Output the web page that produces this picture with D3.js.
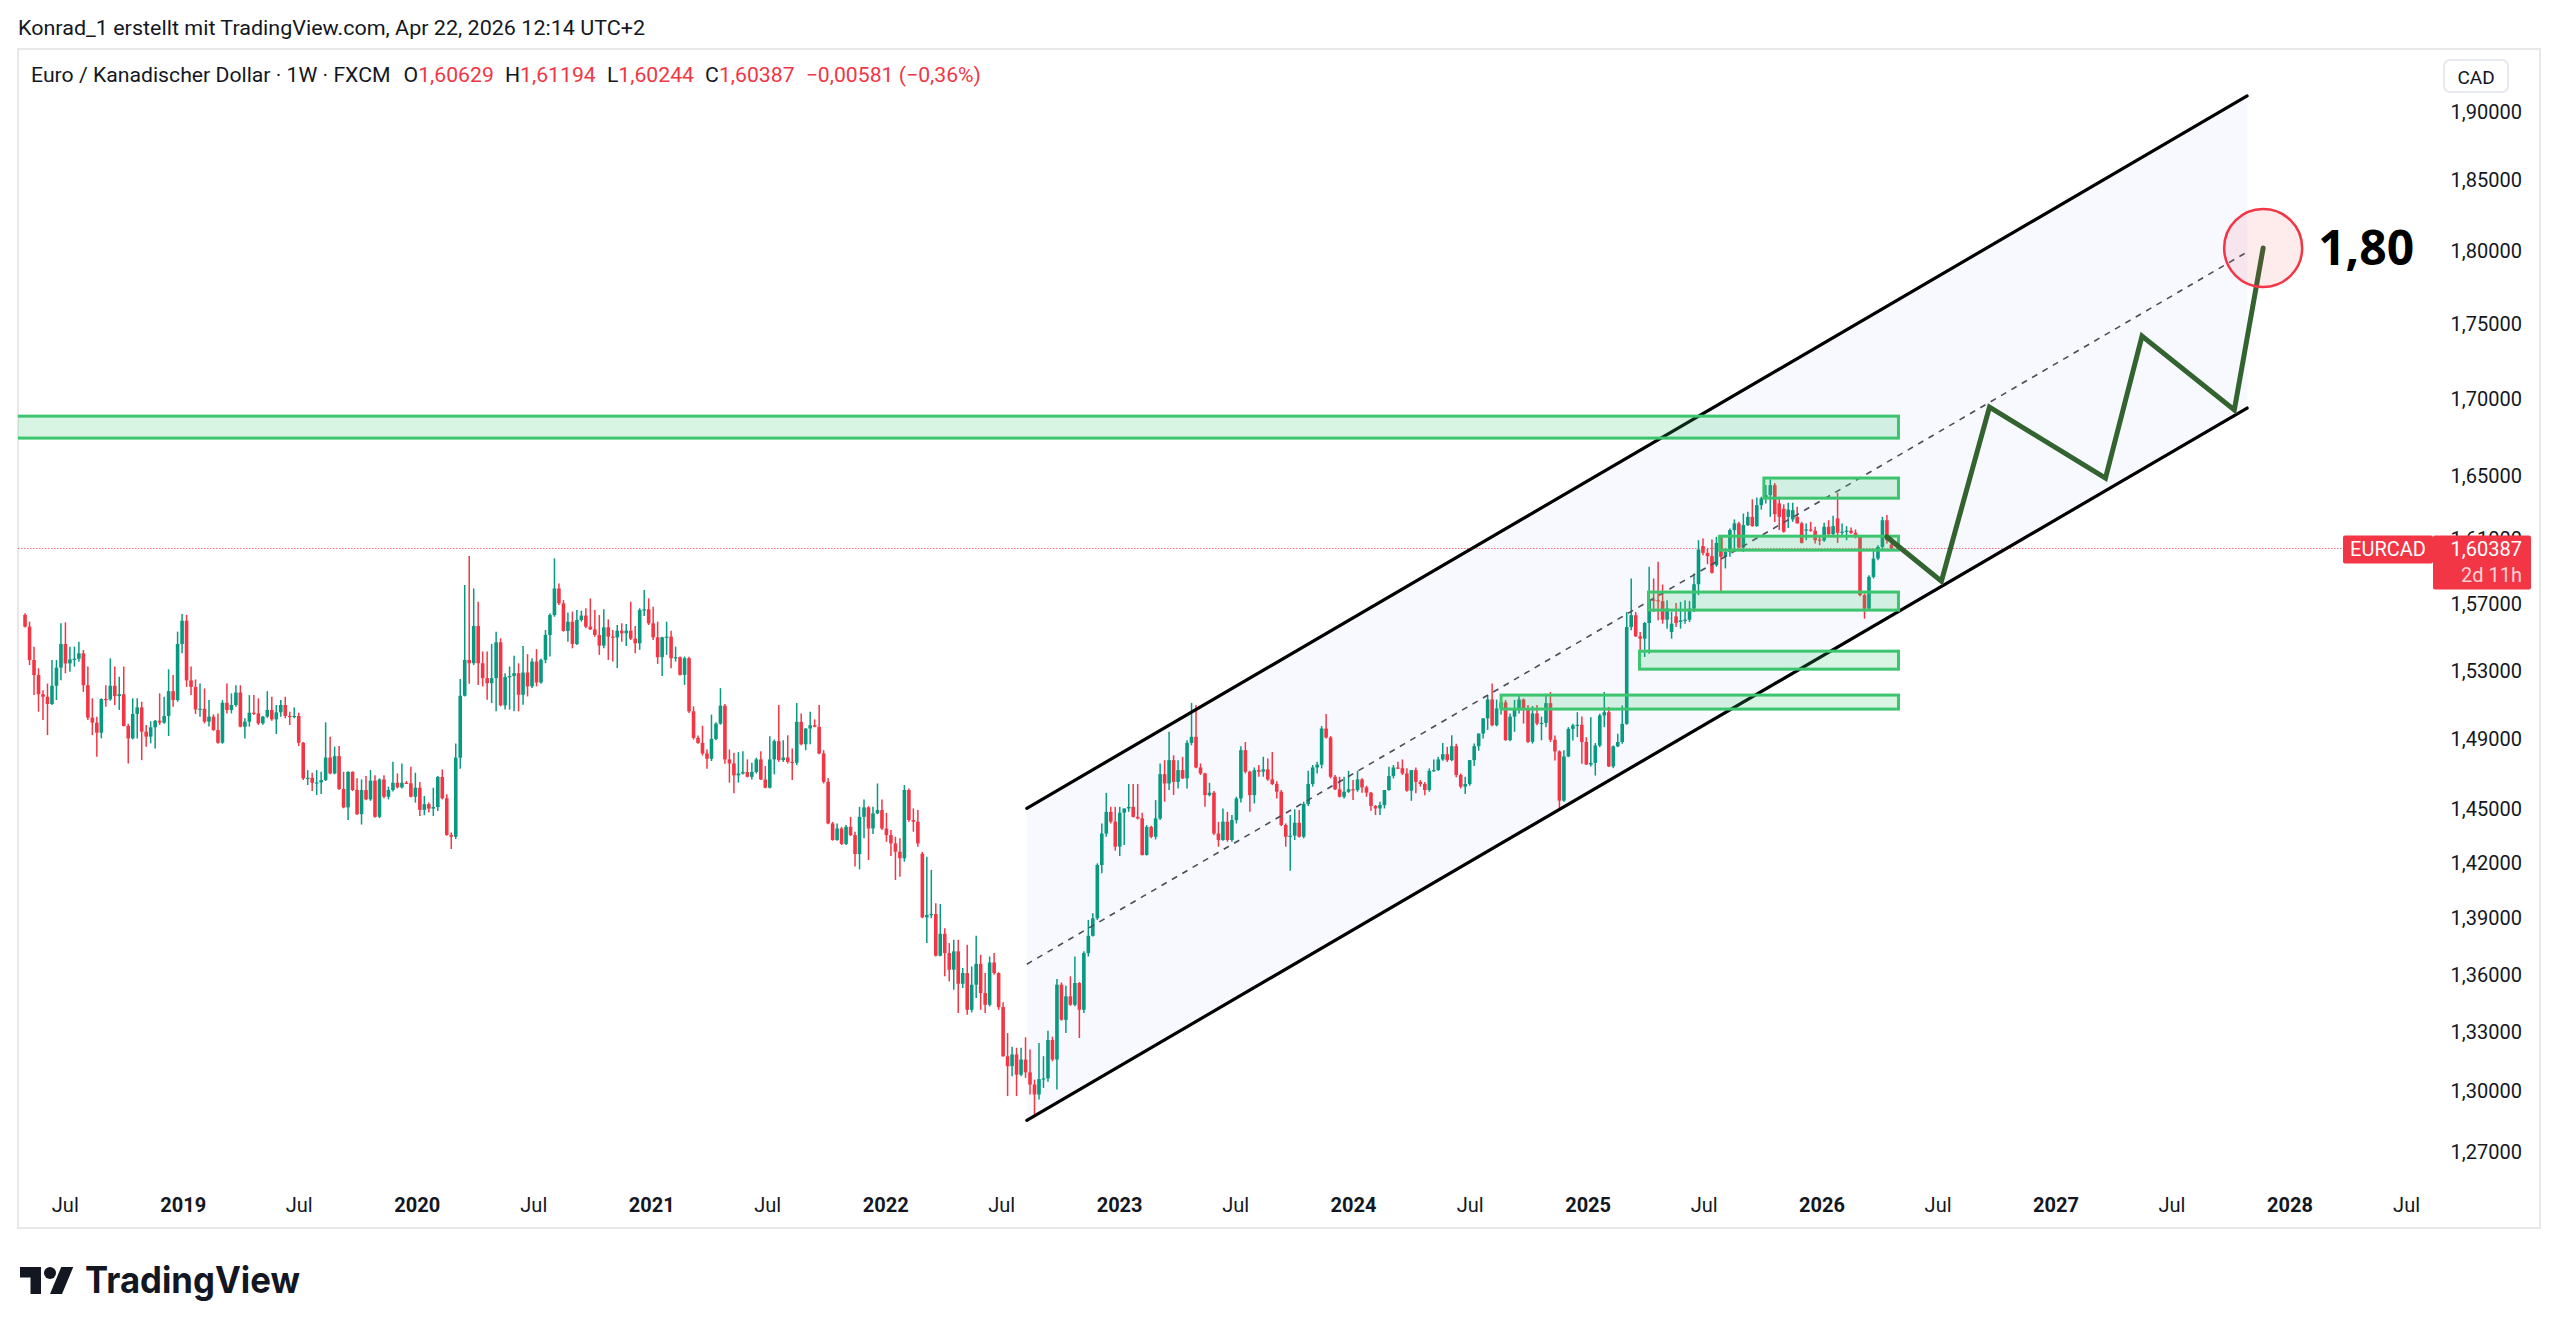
<!DOCTYPE html>
<html>
<head>
<meta charset="utf-8">
<title>EURCAD 1W</title>
<script src="https://cdn.jsdelivr.net/npm/d3@7/dist/d3.min.js"></script>
<style>
	body { margin: 0; background: #ffffff; }
	svg text { font-family: Roboto, "Liberation Sans", sans-serif; fill: #131722; }
</style>
</head>
<body>
<svg id="chart" width="2560" height="1335"></svg>
<script>

//header and legend
var authorLine = "Konrad_1 erstellt mit TradingView.com, Apr 22, 2026 12:14 UTC+2";
var symbolTitle = "Euro / Kanadischer Dollar · 1W · FXCM";
var ohlcLabels = ["O", "H", "L", "C"];
var ohlcValues = [1.60629, 1.61194, 1.60244, 1.60387];
var lastChange = -0.00581, lastChangePct = -0.36;
var symbolName = "EURCAD", barCountdown = "2d 11h", currencyName = "CAD";

//scale ticks
var priceTicks = [1.27, 1.30, 1.33, 1.36, 1.39, 1.42, 1.45, 1.49, 1.53, 1.57, 1.61, 1.65, 1.70, 1.75, 1.80, 1.85, 1.90];
var yearTicks = [2019, 2020, 2021, 2022, 2023, 2024, 2025, 2026, 2027, 2028];
var julTicks = [2018, 2019, 2020, 2021, 2022, 2023, 2024, 2025, 2026, 2027, 2028];

//weekly candles [open, high, low, close], last one is the week of 2026-04-20
var lastBarDate = "2026-04-20";

//may 2018 - dec 2019
var candlesA = [
[1.5631,1.5641,1.5555,1.5560],[1.5560,1.5590,1.5330,1.5360],[1.5360,1.5440,1.5153,1.5271],[1.5271,1.5311,1.5056,1.5158],
[1.5158,1.5182,1.5007,1.5143],[1.5143,1.5221,1.4920,1.5101],[1.5101,1.5360,1.5095,1.5208],[1.5208,1.5360,1.5124,1.5315],
[1.5315,1.5580,1.5241,1.5456],[1.5456,1.5586,1.5281,1.5340],[1.5340,1.5440,1.5291,1.5364],[1.5364,1.5440,1.5321,1.5368],
[1.5368,1.5470,1.5350,1.5400],[1.5400,1.5420,1.5172,1.5211],[1.5211,1.5321,1.5007,1.5021],[1.5021,1.5134,1.4920,1.4992],
[1.4992,1.5027,1.4795,1.4934],[1.4934,1.5134,1.4901,1.5130],[1.5130,1.5211,1.5085,1.5128],[1.5128,1.5370,1.5120,1.5208],
[1.5208,1.5321,1.5095,1.5147],[1.5147,1.5261,1.5066,1.5158],[1.5158,1.5321,1.4969,1.4973],[1.4973,1.4985,1.4757,1.4901],
[1.4901,1.5134,1.4895,1.5043],[1.5043,1.5134,1.4901,1.5081],[1.5081,1.5114,1.4776,1.4940],[1.4940,1.4979,1.4853,1.4911],
[1.4911,1.5000,1.4872,1.4965],[1.4965,1.5007,1.4843,1.5003],[1.5003,1.5163,1.4979,1.4992],[1.4992,1.5143,1.4985,1.5031],
[1.5031,1.5305,1.4915,1.5176],[1.5176,1.5271,1.5085,1.5124],[1.5124,1.5530,1.5114,1.5456],[1.5456,1.5637,1.5400,1.5596],
[1.5596,1.5631,1.5201,1.5240],[1.5240,1.5321,1.5153,1.5201],[1.5201,1.5245,1.5043,1.5069],[1.5069,1.5221,1.5027,1.5073],
[1.5073,1.5192,1.4988,1.4998],[1.4998,1.5124,1.4969,1.5027],[1.5027,1.5040,1.4945,1.4949],[1.4949,1.5046,1.4870,1.4876],
[1.4876,1.5124,1.4870,1.5108],[1.5108,1.5221,1.5046,1.5066],[1.5066,1.5163,1.5046,1.5095],[1.5095,1.5211,1.5085,1.5168],
[1.5168,1.5211,1.4965,1.4969],[1.4969,1.5017,1.4901,1.4998],[1.4998,1.5153,1.4969,1.5050],[1.5050,1.5153,1.5037,1.5046],
[1.5046,1.5134,1.4979,1.4988],[1.4988,1.5031,1.4980,1.5027],[1.5027,1.5176,1.5020,1.5066],[1.5066,1.5143,1.5003,1.5011],
[1.5011,1.5095,1.4926,1.5052],[1.5052,1.5124,1.5027,1.5095],[1.5095,1.5143,1.5017,1.5031],[1.5031,1.5056,1.4979,1.5027],
[1.5027,1.5081,1.5017,1.5031],[1.5031,1.5050,1.4857,1.4876],[1.4876,1.4880,1.4662,1.4672],[1.4672,1.4719,1.4634,1.4675],
[1.4675,1.4704,1.4600,1.4647],[1.4647,1.4719,1.4578,1.4649],[1.4649,1.4709,1.4583,1.4662],[1.4662,1.4994,1.4657,1.4791],
[1.4791,1.4911,1.4695,1.4700],[1.4700,1.4853,1.4695,1.4799],[1.4799,1.4857,1.4606,1.4612],[1.4612,1.4709,1.4503,1.4508],
[1.4508,1.4713,1.4437,1.4709],[1.4709,1.4712,1.4600,1.4606],[1.4606,1.4672,1.4465,1.4470],[1.4470,1.4666,1.4412,1.4606],
[1.4606,1.4685,1.4548,1.4553],[1.4553,1.4719,1.4545,1.4659],[1.4659,1.4690,1.4450,1.4455],[1.4455,1.4672,1.4448,1.4666],
[1.4666,1.4690,1.4559,1.4568],[1.4568,1.4625,1.4553,1.4606],[1.4606,1.4767,1.4597,1.4647],[1.4647,1.4700,1.4615,1.4621],
[1.4621,1.4757,1.4615,1.4647],[1.4647,1.4657,1.4640,1.4644],[1.4644,1.4738,1.4563,1.4568]
];

//dec 2019 - jun 2021
var candlesB = [
[1.4568,1.4704,1.4535,1.4619],[1.4619,1.4651,1.4460,1.4494],[1.4494,1.4572,1.4464,1.4526],[1.4526,1.4535,1.4479,1.4501],
[1.4501,1.4619,1.4460,1.4510],[1.4510,1.4685,1.4488,1.4680],[1.4680,1.4723,1.4553,1.4559],[1.4559,1.4582,1.4349,1.4354],
[1.4354,1.4368,1.4276,1.4344],[1.4344,1.4872,1.4331,1.4790],[1.4790,1.5247,1.4727,1.5149],[1.5149,1.5813,1.5145,1.5361],
[1.5361,1.5991,1.5219,1.5341],[1.5341,1.5792,1.5330,1.5564],[1.5564,1.5711,1.5213,1.5341],[1.5341,1.5411,1.5204,1.5253],
[1.5253,1.5411,1.5126,1.5223],[1.5223,1.5456,1.5106,1.5253],[1.5253,1.5530,1.5058,1.5466],[1.5466,1.5490,1.5087,1.5093],
[1.5093,1.5282,1.5068,1.5259],[1.5259,1.5322,1.5068,1.5265],[1.5265,1.5385,1.5058,1.5282],[1.5282,1.5341,1.5058,1.5155],
[1.5155,1.5444,1.5097,1.5286],[1.5286,1.5395,1.5145,1.5204],[1.5204,1.5371,1.5194,1.5351],[1.5351,1.5425,1.5204,1.5227],
[1.5227,1.5369,1.5220,1.5361],[1.5361,1.5540,1.5341,1.5510],[1.5510,1.5640,1.5381,1.5630],[1.5630,1.5977,1.5620,1.5792],
[1.5792,1.5823,1.5691,1.5701],[1.5701,1.5721,1.5530,1.5534],[1.5534,1.5645,1.5470,1.5590],[1.5590,1.5651,1.5430,1.5456],
[1.5456,1.5661,1.5450,1.5600],[1.5600,1.5657,1.5590,1.5627],[1.5627,1.5671,1.5550,1.5560],[1.5560,1.5731,1.5540,1.5544],
[1.5544,1.5661,1.5500,1.5510],[1.5510,1.5630,1.5391,1.5446],[1.5446,1.5665,1.5430,1.5556],[1.5556,1.5604,1.5361,1.5500],
[1.5500,1.5540,1.5351,1.5495],[1.5495,1.5570,1.5312,1.5536],[1.5536,1.5580,1.5470,1.5520],[1.5520,1.5576,1.5444,1.5536],
[1.5536,1.5711,1.5480,1.5488],[1.5488,1.5564,1.5401,1.5460],[1.5460,1.5671,1.5421,1.5661],[1.5661,1.5782,1.5625,1.5665],
[1.5665,1.5731,1.5570,1.5580],[1.5580,1.5681,1.5480,1.5496],[1.5496,1.5590,1.5337,1.5377],[1.5377,1.5500,1.5266,1.5496],
[1.5496,1.5590,1.5391,1.5500],[1.5500,1.5536,1.5312,1.5371],[1.5371,1.5440,1.5351,1.5377],[1.5377,1.5381,1.5268,1.5272],
[1.5272,1.5381,1.5213,1.5371],[1.5371,1.5380,1.5048,1.5058],[1.5058,1.5087,1.4894,1.4904],[1.4904,1.4917,1.4870,1.4875],
[1.4875,1.4974,1.4803,1.4814],[1.4814,1.4837,1.4727,1.4784],[1.4784,1.5039,1.4771,1.4898],[1.4898,1.4994,1.4890,1.4986],
[1.4986,1.5194,1.4980,1.5091],[1.5091,1.5101,1.4755,1.4780],[1.4780,1.4837,1.4648,1.4757],[1.4757,1.4818,1.4588,1.4689],
[1.4689,1.4822,1.4648,1.4700],[1.4700,1.4827,1.4694,1.4708],[1.4708,1.4780,1.4678,1.4681],[1.4681,1.4761,1.4666,1.4708],
[1.4708,1.4790,1.4700,1.4780],[1.4780,1.4827,1.4662,1.4666],[1.4666,1.4742,1.4615,1.4619],[1.4619,1.4913,1.4614,1.4780],
[1.4780,1.4894,1.4695,1.4885]
];

//jul 2021 - feb 2023
var candlesC = [
[1.4885,1.5095,1.4766,1.4776],[1.4776,1.4890,1.4766,1.4791],[1.4791,1.4919,1.4757,1.4766],[1.4766,1.4842,1.4662,1.4761],
[1.4761,1.5107,1.4747,1.4997],[1.4997,1.5046,1.4861,1.4867],[1.4867,1.4960,1.4833,1.4958],[1.4958,1.5056,1.4867,1.4977],
[1.4977,1.5011,1.4965,1.4968],[1.4968,1.5095,1.4810,1.4814],[1.4814,1.4833,1.4643,1.4652],[1.4652,1.4672,1.4414,1.4418],
[1.4418,1.4427,1.4322,1.4326],[1.4326,1.4418,1.4322,1.4390],[1.4390,1.4399,1.4298,1.4304],[1.4304,1.4409,1.4298,1.4399],
[1.4399,1.4455,1.4348,1.4353],[1.4353,1.4372,1.4179,1.4248],[1.4248,1.4511,1.4164,1.4455],[1.4455,1.4553,1.4335,1.4508],
[1.4508,1.4515,1.4215,1.4390],[1.4390,1.4511,1.4359,1.4474],[1.4474,1.4643,1.4470,1.4493],[1.4493,1.4553,1.4381,1.4390],
[1.4390,1.4478,1.4316,1.4353],[1.4353,1.4381,1.4237,1.4307],[1.4307,1.4344,1.4106,1.4261],[1.4261,1.4335,1.4124,1.4225],
[1.4225,1.4634,1.4206,1.4606],[1.4606,1.4615,1.4428,1.4437],[1.4437,1.4502,1.4372,1.4428],[1.4428,1.4493,1.4289,1.4307],
[1.4250,1.4260,1.3898,1.3903],[1.3903,1.4233,1.3765,1.3916],[1.3916,1.4161,1.3898,1.3921],[1.3921,1.3979,1.3694,1.3698],
[1.3698,1.3975,1.3694,1.3815],[1.3815,1.3845,1.3589,1.3712],[1.3712,1.3765,1.3562,1.3624],[1.3624,1.3783,1.3519,1.3721],
[1.3721,1.3783,1.3397,1.3550],[1.3550,1.3633,1.3528,1.3606],[1.3606,1.3756,1.3388,1.3414],[1.3414,1.3641,1.3400,1.3545],
[1.3545,1.3804,1.3475,1.3655],[1.3655,1.3703,1.3414,1.3501],[1.3501,1.3606,1.3397,1.3440],[1.3440,1.3694,1.3432,1.3662],
[1.3662,1.3712,1.3597,1.3606],[1.3606,1.3610,1.3414,1.3428],[1.3428,1.3453,1.3172,1.3175],[1.3175,1.3294,1.2973,1.3124],
[1.3124,1.3223,1.3073,1.3184],[1.3184,1.3218,1.2973,1.3081],[1.3081,1.3218,1.3073,1.3158],[1.3158,1.3272,1.3065,1.3093],
[1.3093,1.3209,1.2981,1.3031],[1.3031,1.3056,1.2881,1.2981],[1.2981,1.3243,1.2956,1.3059],[1.3059,1.3175,1.3014,1.3062],
[1.3062,1.3305,1.3045,1.3258],[1.3258,1.3275,1.3149,1.3158],[1.3158,1.3575,1.3006,1.3545],[1.3545,1.3557,1.3358,1.3362],
[1.3362,1.3540,1.3294,1.3484],[1.3484,1.3589,1.3435,1.3440],[1.3440,1.3694,1.3432,1.3554],[1.3554,1.3559,1.3268,1.3414],
[1.3414,1.3721,1.3397,1.3712],[1.3712,1.3889,1.3694,1.3804],[1.3804,1.3925,1.3800,1.3898],[1.3898,1.4197,1.3889,1.4188],
[1.4188,1.4418,1.4142,1.4362],[1.4362,1.4590,1.4344,1.4483],[1.4483,1.4511,1.4418,1.4428],[1.4428,1.4511,1.4267,1.4289],
[1.4289,1.4511,1.4237,1.4478],[1.4478,1.4502,1.4298,1.4502],[1.4502,1.4640,1.4483,1.4511],[1.4511,1.4640,1.4451,1.4455],
[1.4455,1.4640,1.4440,1.4446],[1.4446,1.4478,1.4240,1.4243],[1.4243,1.4409,1.4240,1.4399],[1.4399,1.4405,1.4335,1.4344],
[1.4344,1.4549,1.4329,1.4446],[1.4446,1.4757,1.4437,1.4696],[1.4696,1.4776,1.4540,1.4643]
];

//feb 2023 - apr 2026
var candlesD = [
[1.4643,1.4939,1.4606,1.4776],[1.4776,1.4804,1.4578,1.4652],[1.4652,1.4776,1.4615,1.4719],[1.4719,1.4795,1.4668,1.4672],
[1.4672,1.4890,1.4615,1.4875],[1.4875,1.5107,1.4861,1.4910],[1.4910,1.5095,1.4729,1.4734],[1.4734,1.4757,1.4691,1.4700],
[1.4700,1.4704,1.4511,1.4577],[1.4577,1.4647,1.4570,1.4591],[1.4591,1.4600,1.4353,1.4362],[1.4362,1.4427,1.4289,1.4326],
[1.4326,1.4502,1.4322,1.4428],[1.4428,1.4483,1.4316,1.4326],[1.4326,1.4465,1.4316,1.4437],[1.4437,1.4568,1.4418,1.4558],
[1.4558,1.4856,1.4535,1.4833],[1.4833,1.4880,1.4700,1.4710],[1.4710,1.4715,1.4483,1.4577],[1.4577,1.4734,1.4530,1.4719],
[1.4719,1.4748,1.4681,1.4710],[1.4710,1.4795,1.4681,1.4723],[1.4723,1.4785,1.4658,1.4666],[1.4666,1.4823,1.4634,1.4640],
[1.4640,1.4655,1.4558,1.4596],[1.4596,1.4606,1.4403,1.4409],[1.4409,1.4418,1.4289,1.4344],[1.4344,1.4465,1.4156,1.4350],
[1.4350,1.4497,1.4326,1.4422],[1.4422,1.4493,1.4340,1.4344],[1.4344,1.4540,1.4335,1.4527],[1.4527,1.4715,1.4516,1.4640],
[1.4640,1.4748,1.4625,1.4734],[1.4734,1.4766,1.4700,1.4750],[1.4750,1.4972,1.4729,1.4958],[1.4958,1.5042,1.4900,1.4906],
[1.4906,1.4914,1.4672,1.4681],[1.4681,1.4691,1.4606,1.4610],[1.4610,1.4681,1.4564,1.4568],[1.4568,1.4681,1.4558,1.4596],
[1.4596,1.4715,1.4590,1.4610],[1.4610,1.4662,1.4549,1.4606],[1.4606,1.4715,1.4596,1.4666],[1.4666,1.4672,1.4590,1.4621],
[1.4621,1.4630,1.4568,1.4591],[1.4591,1.4595,1.4489,1.4516],[1.4516,1.4521,1.4465,1.4502],[1.4502,1.4540,1.4465,1.4521],
[1.4521,1.4606,1.4502,1.4606],[1.4606,1.4738,1.4602,1.4685],[1.4685,1.4748,1.4672,1.4734],[1.4734,1.4766,1.4725,1.4730],
[1.4730,1.4780,1.4691,1.4700],[1.4700,1.4729,1.4596,1.4602],[1.4602,1.4719,1.4545,1.4719],[1.4719,1.4734,1.4587,1.4652],
[1.4652,1.4662,1.4625,1.4640],[1.4640,1.4652,1.4577,1.4606],[1.4606,1.4729,1.4596,1.4715],[1.4715,1.4780,1.4710,1.4719],
[1.4719,1.4795,1.4715,1.4780],[1.4780,1.4875,1.4772,1.4810],[1.4810,1.4852,1.4766,1.4776],[1.4776,1.4919,1.4770,1.4856],
[1.4856,1.4870,1.4678,1.4691],[1.4691,1.4700,1.4615,1.4625],[1.4625,1.4681,1.4583,1.4640],[1.4640,1.4776,1.4630,1.4776],
[1.4776,1.4871,1.4742,1.4856],[1.4856,1.4929,1.4830,1.4929],[1.4929,1.5017,1.4900,1.5017],[1.5017,1.5152,1.4950,1.5127],
[1.5127,1.5221,1.4971,1.4977],[1.4977,1.5127,1.4971,1.5075],[1.5075,1.5150,1.5040,1.5110],[1.5110,1.5124,1.4887,1.4891],
[1.4891,1.5046,1.4885,1.5027],[1.5027,1.5124,1.4939,1.5065],[1.5065,1.5152,1.5046,1.5127],[1.5127,1.5133,1.4987,1.5069],
[1.5069,1.5095,1.4875,1.4881],[1.4881,1.5089,1.4871,1.5046],[1.5046,1.5095,1.4977,1.4987],[1.4987,1.5027,1.4890,1.4991],
[1.4991,1.5161,1.4966,1.5106],[1.5106,1.5171,1.4880,1.4893],[1.4893,1.4918,1.4774,1.4826],[1.4826,1.4832,1.4490,1.4546],
[1.4546,1.4832,1.4540,1.4797],[1.4797,1.4966,1.4793,1.4956],[1.4956,1.4985,1.4889,1.4976],[1.4976,1.5053,1.4908,1.4980],
[1.4980,1.5028,1.4755,1.4880],[1.4880,1.4908,1.4748,1.4751],[1.4751,1.5024,1.4740,1.4760],[1.4760,1.4874,1.4688,1.4860],
[1.4860,1.5044,1.4851,1.5034],[1.5034,1.5171,1.4966,1.5053],[1.5053,1.5083,1.4736,1.4740],[1.4740,1.4860,1.4730,1.4855],
[1.4855,1.4928,1.4851,1.4880],[1.4880,1.5092,1.4870,1.4985],[1.4985,1.5649,1.4980,1.5558],[1.5558,1.5853,1.5538,1.5629],
[1.5629,1.5649,1.5498,1.5502],[1.5502,1.5528,1.5318,1.5488],[1.5488,1.5588,1.5378,1.5582],[1.5582,1.5925,1.5398,1.5724],
[1.5724,1.5853,1.5649,1.5720],[1.5720,1.5956,1.5598,1.5714],[1.5714,1.5816,1.5578,1.5602],[1.5602,1.5720,1.5548,1.5669],
[1.5528,1.5649,1.5488,1.5578],[1.5622,1.5703,1.5558,1.5582],[1.5588,1.5710,1.5548,1.5598],[1.5598,1.5720,1.5578,1.5602],
[1.5602,1.5716,1.5588,1.5669],[1.5669,1.5884,1.5649,1.5818],[1.5818,1.6090,1.5751,1.6032],[1.6053,1.6100,1.5997,1.6011],
[1.6011,1.6038,1.5941,1.5991],[1.5991,1.6094,1.5884,1.5888],[1.5935,1.6111,1.5925,1.6073],[1.6107,1.6111,1.5765,1.5987],
[1.5987,1.6038,1.5915,1.6017],[1.6017,1.6163,1.5987,1.6153],[1.6153,1.6220,1.6017,1.6195],[1.6195,1.6205,1.6038,1.6044],
[1.6044,1.6257,1.6017,1.6184],[1.6184,1.6268,1.6178,1.6236],[1.6236,1.6347,1.6174,1.6178],[1.6178,1.6359,1.6174,1.6310],
[1.6310,1.6363,1.6282,1.6352],[1.6352,1.6437,1.6320,1.6373],[1.6373,1.6473,1.6236,1.6437],[1.6437,1.6450,1.6203,1.6253],
[1.6321,1.6363,1.6153,1.6236],[1.6287,1.6315,1.6137,1.6143],[1.6236,1.6325,1.6166,1.6282],[1.6220,1.6325,1.6205,1.6278],
[1.6236,1.6299,1.6195,1.6195],[1.6195,1.6205,1.6069,1.6073],[1.6153,1.6195,1.6090,1.6157],[1.6157,1.6205,1.6143,1.6149],
[1.6149,1.6174,1.6069,1.6090],[1.6094,1.6122,1.6059,1.6088],[1.6088,1.6199,1.6080,1.6174],[1.6174,1.6215,1.6122,1.6128],
[1.6128,1.6243,1.6122,1.6178],[1.6226,1.6388,1.6073,1.6136],[1.6136,1.6195,1.6115,1.6143],[1.6143,1.6178,1.6090,1.6149],
[1.6149,1.6170,1.6128,1.6136],[1.6136,1.6157,1.6101,1.6111],[1.6111,1.6120,1.5745,1.5751],[1.5751,1.5761,1.5608,1.5669],
[1.5669,1.5873,1.5659,1.5863],[1.5863,1.6032,1.5853,1.5976],[1.5976,1.6059,1.5966,1.6048],[1.6048,1.6236,1.6032,1.6215],
[1.6215,1.6247,1.6069,1.6090],[1.60629,1.61194,1.60244,1.60387]
];

//drawings: rising channel (upper, middle, lower line)
var channelDates = ["2022-08-10", "2027-10-27"];
var channelUpper = [1.4503, 1.9111];
var channelMiddle = [1.3653, 1.7990];
var channelLower = [1.2852, 1.6935];

//drawings: green zones
var zoneStarts = ["2018-01-01", "2025-10-03", "2025-07-26", "2025-04-06", "2025-03-23", "2024-08-19"];
var zoneEnd = "2026-05-01";
var zoneTops = [1.6882, 1.6482, 1.6115, 1.5770, 1.5413, 1.5153];
var zoneBottoms = [1.6739, 1.6354, 1.6028, 1.5660, 1.5306, 1.5071];

//drawings: projected path and target
var pathDates = ["2026-04-13", "2026-07-07", "2026-09-20", "2027-03-20", "2027-05-16", "2027-10-07", "2027-11-21"];
var pathPrices = [1.6110, 1.5837, 1.6941, 1.6482, 1.7414, 1.6922, 1.8018];
var targetLabel = "1,80";


(function(d3) {

	var pane = { left: 18, right: 2433, top: 49, bottom: 1180 };
	var upColor = "#089981", downColor = "#F23645";
	var parseDate = d3.utcParse("%Y-%m-%d");
	var locale = d3.formatLocale({ decimal: ",", thousands: ".", grouping: [3], currency: ["", ""] });
	var fmt5 = locale.format(".5f"), fmt2 = locale.format(".2f");

	var svg = d3.select("#chart");

	//scales
	var x = d3.scaleUtc().domain([parseDate("2018-04-19"), parseDate("2028-08-12")]).range([pane.left, pane.right]);
	var y = d3.scaleLog().domain([1.27, 1.90]).range([1151, 111]);

	//clip for the drawing pane
	svg.append("defs").append("clipPath").attr("id", "pane")
		.append("rect").attr("x", pane.left).attr("y", pane.top)
		.attr("width", pane.right - pane.left).attr("height", pane.bottom - pane.top);

	//header line
	svg.append("text").attr("x", 18).attr("y", 35)
		.attr("textLength", 627).attr("lengthAdjust", "spacingAndGlyphs")
		.style("font-size", "20px").text(authorLine);

	//chart frame
	svg.append("rect").attr("x", 18).attr("y", 49).attr("width", 2522).attr("height", 1179)
		.style("fill", "none").style("stroke", "#e8e8ea").style("stroke-width", 2);

	var g = svg.append("g").attr("clip-path", "url(#pane)");

	//channel background
	var c0 = parseDate(channelDates[0]), c1 = parseDate(channelDates[1]);
	g.append("path")
		.attr("d", d3.line()([[x(c0), y(channelUpper[0])], [x(c1), y(channelUpper[1])], [x(c1), y(channelLower[1])], [x(c0), y(channelLower[0])]]) + "Z")
		.style("fill", "rgba(41,98,255,0.035)");

	//last price line
	var lastClose = ohlcValues[3];
	g.append("line").attr("x1", pane.left).attr("x2", pane.right).attr("y1", y(lastClose)).attr("y2", y(lastClose))
		.style("stroke", downColor).style("stroke-opacity", 0.75).style("stroke-width", 1).style("stroke-dasharray", "1.5,1.5");

	//candles
	var bars = candlesA.concat(candlesB, candlesC, candlesD);
	var n = bars.length, last = parseDate(lastBarDate);
	var candles = bars.map(function(b, i) {
		return { t: d3.utcDay.offset(last, -7 * (n - 1 - i)), o: b[0], h: b[1], l: b[2], c: b[3] };
	});
	var colorOf = function(d) { return d.c >= d.o ? upColor : downColor; };

	g.append("g").selectAll("line").data(candles).enter().append("line")
		.attr("x1", function(d) { return x(d.t); }).attr("x2", function(d) { return x(d.t); })
		.attr("y1", function(d) { return y(d.h); }).attr("y2", function(d) { return y(d.l); })
		.style("stroke", colorOf).style("stroke-width", 1.5);
	g.append("g").selectAll("rect").data(candles).enter().append("rect")
		.attr("x", function(d) { return x(d.t) - 1.8; }).attr("width", 3.6)
		.attr("y", function(d) { return y(Math.max(d.o, d.c)); })
		.attr("height", function(d) { return Math.max(1.2, Math.abs(y(d.o) - y(d.c))); })
		.style("fill", colorOf);

	//channel middle (dashed) and borders
	g.append("line").attr("x1", x(c0)).attr("x2", x(c1)).attr("y1", y(channelMiddle[0])).attr("y2", y(channelMiddle[1]))
		.style("stroke", "#4a4e5a").style("stroke-width", 1.6).style("stroke-dasharray", "6,6");
	g.selectAll("line.chb").data([channelUpper, channelLower]).enter().append("line").attr("class", "chb")
		.attr("x1", x(c0)).attr("x2", x(c1))
		.attr("y1", function(d) { return y(d[0]); }).attr("y2", function(d) { return y(d[1]); })
		.style("stroke", "#000").style("stroke-width", 3.2).style("stroke-linecap", "round");

	//zones
	var zEnd = parseDate(zoneEnd);
	g.append("g").selectAll("rect").data(zoneStarts).enter().append("rect")
		.attr("x", function(d) { return x(parseDate(d)); })
		.attr("width", function(d) { return x(zEnd) - x(parseDate(d)); })
		.attr("y", function(d, i) { return y(zoneTops[i]); })
		.attr("height", function(d, i) { return y(zoneBottoms[i]) - y(zoneTops[i]); })
		.style("fill", "rgba(60,200,110,0.2)").style("stroke", "#3cc46e").style("stroke-width", 3);

	//projected path
	var pts = pathDates.map(function(d, i) { return [x(parseDate(d)), y(pathPrices[i])]; });
	g.append("path").attr("d", d3.line()(pts))
		.style("fill", "none").style("stroke", "#33632f").style("stroke-width", 5)
		.style("stroke-linejoin", "miter").style("stroke-linecap", "round");

	//target circle and label
	var tgt = pts[pts.length - 1];
	g.append("circle").attr("cx", tgt[0]).attr("cy", tgt[1]).attr("r", 39)
		.style("fill", "rgba(242,54,69,0.1)").style("stroke", downColor).style("stroke-width", 2.5);
	svg.append("text").attr("x", tgt[0] + 55).attr("y", tgt[1] + 17)
		.style("font-family", "'Open Sans', sans-serif").style("font-weight", "bold").style("font-size", "48px")
		.style("fill", "#000").text(targetLabel);

	//price scale
	var pAxis = svg.append("g").attr("transform", "translate(2522,0)")
		.call(d3.axisRight(y).tickValues(priceTicks).tickSize(0).tickFormat(fmt5));
	pAxis.select(".domain").remove();
	pAxis.attr("font-family", null).attr("font-size", null);
	pAxis.selectAll("text").attr("x", 0).attr("dy", "0.35em").attr("text-anchor", "end")
		.style("font-size", "20px").style("fill", "#131722");

	//time scale
	var tickDates = yearTicks.map(function(yr) { return new Date(Date.UTC(yr, 0, 1)); })
		.concat(julTicks.map(function(yr) { return new Date(Date.UTC(yr, 6, 1)); }));
	var tAxis = svg.append("g").attr("transform", "translate(0,1205)")
		.call(d3.axisBottom(x).tickValues(tickDates).tickSize(0)
			.tickFormat(function(d) { return d.getUTCMonth() === 0 ? d.getUTCFullYear() : "Jul"; }));
	tAxis.select(".domain").remove();
	tAxis.attr("font-family", null).attr("font-size", null);
	tAxis.selectAll("text").attr("y", 0).attr("dy", "0.35em")
		.style("font-size", "20px").style("fill", "#131722")
		.style("font-weight", function(d) { return d.getUTCMonth() === 0 ? "bold" : "normal"; });

	//last price labels on the scale (they cover the 1,61000 tick as in TradingView)
	var ly = y(lastClose);
	svg.append("rect").attr("x", 2343).attr("y", ly - 13).attr("width", 90).attr("height", 28).attr("rx", 2)
		.style("fill", downColor);
	svg.append("text").attr("x", 2388).attr("y", ly + 1).attr("dy", "0.35em").attr("text-anchor", "middle")
		.style("font-size", "20px").style("fill", "#fff").text(symbolName);
	svg.append("rect").attr("x", 2433).attr("y", ly - 13).attr("width", 98).attr("height", 54).attr("rx", 2)
		.style("fill", downColor);
	svg.append("text").attr("x", 2522).attr("y", ly + 1).attr("dy", "0.35em").attr("text-anchor", "end")
		.style("font-size", "20px").style("fill", "#fff").text(fmt5(lastClose));
	svg.append("text").attr("x", 2522).attr("y", ly + 27).attr("dy", "0.35em").attr("text-anchor", "end")
		.style("font-size", "20px").style("fill", "rgba(255,255,255,0.78)").text(barCountdown);

	//currency button
	svg.append("rect").attr("x", 2444).attr("y", 60).attr("width", 64).attr("height", 32).attr("rx", 6)
		.style("fill", "#fff").style("stroke", "#e0e3eb").style("stroke-width", 1.5);
	svg.append("text").attr("x", 2476).attr("y", 77).attr("dy", "0.35em").attr("text-anchor", "middle")
		.style("font-size", "19px").text(currencyName);

	//legend
	var legend = svg.append("text").attr("x", 31).attr("y", 82)
		.attr("textLength", 950).attr("lengthAdjust", "spacingAndGlyphs").style("font-size", "21px");
	legend.append("tspan").text(symbolTitle);
	ohlcLabels.forEach(function(lb, i) {
		legend.append("tspan").attr("dx", i === 0 ? 13 : 11).text(lb);
		legend.append("tspan").style("fill", downColor).text(fmt5(ohlcValues[i]));
	});
	legend.append("tspan").attr("dx", 11).style("fill", downColor)
		.text(fmt5(lastChange) + " (" + fmt2(lastChangePct) + "%)");

	//tradingview logo
	var logo = svg.append("g").attr("transform", "translate(20,1261) scale(1.5)");
	logo.append("path").attr("d", "M14 22H7V11H0V4h14v18z").style("fill", "#131722");
	logo.append("circle").attr("cx", 20).attr("cy", 8).attr("r", 4).style("fill", "#131722");
	logo.append("path").attr("d", "M28 22h-8l7.5-18h8L28 22z").style("fill", "#131722");
	svg.append("text").attr("x", 85).attr("y", 1293)
		.attr("textLength", 215).attr("lengthAdjust", "spacingAndGlyphs")
		.style("font-family", "Inter, Roboto, sans-serif").style("font-weight", "bold").style("font-size", "37px")
		.text("TradingView");

}(d3));
</script>
</body>
</html>
